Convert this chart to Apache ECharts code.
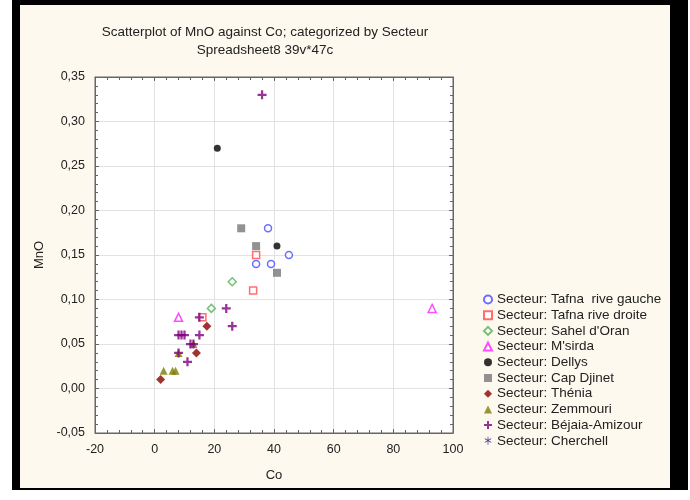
<!DOCTYPE html>
<html><head><meta charset="utf-8">
<script src="https://cdn.jsdelivr.net/npm/echarts@6/dist/echarts.min.js"></script>
<style>
html,body{margin:0;padding:0;background:#ffffff;width:690px;height:500px;overflow:hidden;}
#frame{position:absolute;left:12px;top:0;width:676px;height:490px;background:#000;}
#inner{position:absolute;left:20px;top:5px;width:650px;height:483px;background:#fdf9ee;}
#chart{position:absolute;left:0;top:0;width:690px;height:500px;}
</style></head>
<body>
<div id="frame"></div><div id="inner"></div>
<div id="chart"></div>
<script>
// Data: [Co, MnO]
const titleLines = ["Scatterplot of MnO against Co; categorized by Secteur", "Spreadsheet8 39v*47c"];
const xTicks = [-20, 0, 20, 40, 60, 80, 100];
const yTicks = [-0.05, 0, 0.05, 0.10, 0.15, 0.20, 0.25, 0.30, 0.35];
const tafnaGauche = [[38,0.18],[34,0.14],[39,0.14],[45,0.15]];
const tafnaDroite = [[34,0.15],[33,0.11],[16,0.08]];
const sahelOran = [[26,0.12],[19,0.09]];
const msirda = [[8,0.08],[93,0.09]];
const dellys = [[21,0.27],[41,0.16]];
const capDjinet = [[29,0.18],[34,0.16],[41,0.13]];
const thenia = [[17.5,0.07],[14,0.04],[2,0.01]];
const zemmouri = [[3,0.02],[6,0.02],[7,0.02],[8,0.04],[13,0.05]];
const bejaia = [[36,0.33],[24,0.09],[15,0.08],[26,0.07],[8,0.06],[9,0.06],[10,0.06],[15,0.06],[12,0.05],[13,0.05],[8,0.04],[11,0.03]];
const cherchell = [];

const CROSS = 'path://M3,0H5V3H8V5H5V8H3V5H0V3H3Z';
const STAR = 'path://M3.6,0H4.4V3L7,1.5L7.4,2.2L4.8,3.7L7.4,5.2L7,5.9L4.4,4.4V8H3.6V4.4L1,5.9L0.6,5.2L3.2,3.7L0.6,2.2L1,1.5L3.6,3Z';

function openS(name, data, symbol, color, size){
  return {name, type:'scatter', data, symbol, symbolSize:size,
    itemStyle:{color:'#ffffff', borderColor:color, borderWidth:1.5}};
}
function fillS(name, data, symbol, color, size){
  return {name, type:'scatter', data, symbol, symbolSize:size,
    itemStyle:{color:color, borderWidth:0}};
}
const series = [
  openS('Secteur: Tafna  rive gauche', tafnaGauche, 'circle', '#4a4aff', 7),
  openS('Secteur: Tafna rive droite', tafnaDroite, 'rect', '#ff4a4a', 7),
  openS("Secteur: Sahel d'Oran", sahelOran, 'diamond', '#55b055', 8),
  openS("Secteur: M'sirda", msirda, 'triangle', '#ff22ff', 8),
  fillS('Secteur: Dellys', dellys, 'circle', '#000000', 7),
  fillS('Secteur: Cap Djinet', capDjinet, 'rect', '#777777', 8),
  fillS('Secteur: Thénia', thenia, 'diamond', '#8b0000', 9),
  fillS('Secteur: Zemmouri', zemmouri, 'triangle', '#7d7d00', 8),
  fillS('Secteur: Béjaia-Amizour', bejaia, CROSS, '#800080', 9),
  fillS('Secteur: Cherchell', cherchell, STAR, '#1a1a8c', 8)
];
series.forEach((s,i)=>{ s.z = 2 + i; s.emphasis={disabled:true}; });
series[7].z = 2;

const fmtY = v => (Math.abs(v) < 1e-9 ? 0 : v).toFixed(2).replace('.', ',');
const FONT = 'Liberation Sans';
const tick = {show:true, inside:true, length:4, lineStyle:{color:'#666'}};
const minor = {show:true, splitNumber:5, length:3, lineStyle:{color:'#666'}};
const chart = echarts.init(document.getElementById('chart'), null, {renderer:'canvas'});
chart.setOption({
  animation:false,
  backgroundColor:'transparent',
  textStyle:{fontFamily:FONT},
  title:{text:titleLines.join('\n'), left:260, textAlign:'center', top:18,
    textStyle:{fontFamily:FONT, fontSize:13.5, fontWeight:'normal', color:'#222', lineHeight:18}},
  grid:{left:95, right:237, top:77, bottom:67, show:true, backgroundColor:'#ffffff', borderColor:'#666', borderWidth:1},
  legend:{orient:'vertical', left:478, top:287, itemWidth:8, itemHeight:8, itemGap:0.7,
    textStyle:{fontFamily:FONT, fontSize:13.5, color:'#222', lineHeight:15}},
  xAxis:[{type:'value', min:xTicks[0], max:xTicks[xTicks.length-1], interval:20,
    name:'Co', nameLocation:'middle', nameGap:36, nameTextStyle:{fontSize:13, color:'#222'},
    axisLine:{show:true, onZero:false, lineStyle:{color:'#666'}},
    axisTick:tick, minorTick:minor,
    axisLabel:{fontSize:12.5, color:'#222', margin:10},
    splitLine:{show:true, lineStyle:{color:'#e2e2e2'}}},
   {type:'value', position:'top', min:xTicks[0], max:xTicks[xTicks.length-1], interval:20,
    axisLine:{show:true, onZero:false, lineStyle:{color:'#666'}}, axisLabel:{show:false},
    axisTick:tick, minorTick:minor, splitLine:{show:false}}],
  yAxis:[{type:'value', min:yTicks[0], max:yTicks[yTicks.length-1], interval:0.05,
    name:'MnO', nameLocation:'middle', nameGap:48, nameRotate:90, nameTextStyle:{fontSize:13, color:'#222'},
    axisLine:{show:true, onZero:false, lineStyle:{color:'#666'}},
    axisTick:tick, minorTick:minor,
    axisLabel:{fontSize:12.5, color:'#222', margin:10, formatter:fmtY},
    splitLine:{show:true, lineStyle:{color:'#e2e2e2'}}},
   {type:'value', position:'right', min:yTicks[0], max:yTicks[yTicks.length-1], interval:0.05,
    axisLine:{show:true, onZero:false, lineStyle:{color:'#666'}}, axisLabel:{show:false},
    axisTick:tick, minorTick:minor, splitLine:{show:false}}],
  series: series
});
</script>
</body></html>
